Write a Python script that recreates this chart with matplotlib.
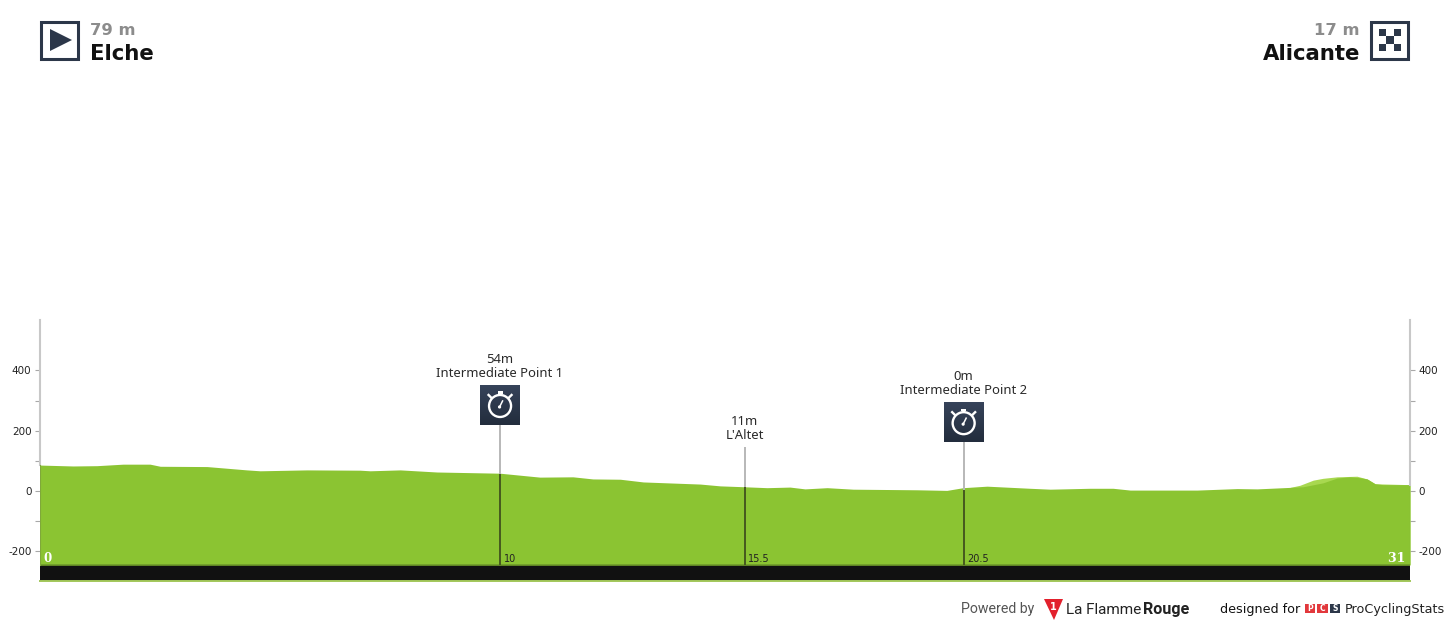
import numpy as np
import matplotlib
matplotlib.use('Agg')
import matplotlib.pyplot as plt
from matplotlib.patches import Rectangle, Polygon, Circle

plt.rcParams['axes.unicode_minus'] = False

# profile, km / metres
km = [0, 0.75, 1.29, 1.88, 2.49, 2.72, 3.78, 4.68, 4.98, 6.04, 7.24, 7.47, 8.15, 8.98, 10.41,
      11.31, 12.06, 12.51, 13.13, 13.65, 14.94, 15.39, 15.95, 16.45, 16.97, 17.31, 17.81, 18.4,
      19.85, 20.52, 20.89, 21.43, 22.4, 22.86, 23.76, 24.28, 24.67, 26.18, 27.09, 27.54, 28.29,
      28.58, 29.03, 29.35, 29.64, 29.87, 30.03, 30.21, 30.39, 31]
elev = [86, 83, 84, 89, 89, 82, 81, 70, 67, 70, 69, 67, 70, 63, 59,
        46, 47, 40, 39, 30, 23, 17, 14, 11, 13, 7, 11, 6,
        4, 2, 11, 16, 9, 6, 9, 9, 3, 3, 8, 7, 12,
        14, 27, 43, 47, 44, 40, 24, 21, 21]
# lighter layer behind the profile, only visible near the finish
km_light = [28.29, 28.51, 28.81, 29.03, 29.35, 29.8, 30.03, 30.21, 31]
elev_light = [12, 19, 36, 42, 47, 49, 40, 24, 21]

marker_km = [10.41, 15.95, 20.9]
marker_elev = [54, 11, 0]
marker_names = ['Intermediate Point 1', "L'Altet", 'Intermediate Point 2']
marker_dist = ['10', '15.5', '20.5']
marker_icon = [True, False, True]
pole_top = [219, 146, 162]

y_major = [-200, 0, 200, 400]
y_minor = [-100, 100, 300]

start_name, start_alt = 'Elche', '79 m'
finish_name, finish_alt = 'Alicante', '17 m'
total_km = 31

GREEN = '#8bc432'
LIGHT = '#a8d850'
DARK = '#2c3749'
W, H = 1450, 625
BASE = -245

fig = plt.figure(figsize=(W / 100, H / 100), dpi=100)
ax = fig.add_axes([40 / W, 1 - 581 / H, 1370 / W, 261 / H])
ax.set_xlim(0, total_km)
ax.set_ylim((491 - 581) / 0.3015, (491 - 320) / 0.3015)
ax.patch.set_visible(False)

ax.fill_between(km_light, BASE, elev_light, color=LIGHT, lw=0, zorder=1)
ax.fill_between(km, BASE, elev, color=GREEN, lw=0, zorder=2)
ax.axhspan(ax.get_ylim()[0], BASE, color='#111111', lw=0, zorder=3)
ax.axhline(BASE, color='#6f9a2a', lw=1.2, zorder=4)
ax.axhline(ax.get_ylim()[0], color='#a2c75a', lw=1.4, zorder=4, clip_on=False)
ax.plot([0, 0], [BASE, elev[0]], color='#7fa83a', lw=0.8, zorder=4)
ax.plot([total_km, total_km], [BASE, elev[-1]], color='#7fa83a', lw=0.8, zorder=4)

ax.set_xticks([])
ax.set_yticks(y_major)
ax.set_yticks(y_minor, minor=True)
ax.tick_params(axis='y', which='both', left=True, right=True, labelleft=True, labelright=True,
               length=3.6, width=0.8, color='#a8a8a8', labelsize=7.5, labelcolor='#222222', pad=2.5)
for s in ['top', 'bottom']:
    ax.spines[s].set_visible(False)
for s in ['left', 'right']:
    ax.spines[s].set_color('#c8c8c8')
    ax.spines[s].set_linewidth(1.5)
    ax.spines[s].set_bounds(elev[0] if s == 'left' else elev[-1], ax.get_ylim()[1])

ax.text(0, BASE, ' 0', color='white', family='DejaVu Serif', weight='bold', fontsize=8.5,
        ha='left', va='bottom', zorder=5)
ax.text(total_km, BASE, '31 ', color='white', family='DejaVu Serif', weight='bold', fontsize=9,
        ha='right', va='bottom', zorder=5)

# overlay in pixel coordinates for the icons and the header/footer
ov = fig.add_axes([0, 0, 1, 1])
ov.set_xlim(0, W)
ov.set_ylim(H, 0)
ov.axis('off')
ov.patch.set_visible(False)
grad = np.linspace(0, 1, 40).reshape(-1, 1)
cmap = matplotlib.colors.LinearSegmentedColormap.from_list('ic', ['#36435a', '#232d3d'])


def stopwatch(cx, cy):
    ov.imshow(grad, extent=(cx - 20, cx + 20, cy + 20, cy - 20), cmap=cmap, aspect='auto', zorder=5)
    c = (cx, cy + 1)
    ov.add_patch(Circle(c, 11, fc='none', ec='white', lw=1.7, zorder=6))
    ov.add_patch(Rectangle((cx - 2.5, cy - 13.5), 5, 2.5, fc='white', lw=0, zorder=6))
    ov.plot([cx - 11.5, cx - 8.5], [cy - 10, cy - 7], color='white', lw=1.7, zorder=6)
    ov.plot([cx + 11.5, cx + 8.5], [cy - 10, cy - 7], color='white', lw=1.7, zorder=6)
    ov.plot([cx - 0.5, cx + 2.5], [cy + 2, cy - 4], color='white', lw=1.1, zorder=6)
    ov.add_patch(Circle((cx - 0.5, cy + 2), 1.6, fc='white', lw=0, zorder=6))


for i in range(len(marker_km)):
    x = marker_km[i]
    ax.plot([x, x], [marker_elev[i], pole_top[i]], color='#b8b8b8', lw=1.4, zorder=3,
            solid_capstyle='butt')
    ax.plot([x, x], [BASE, marker_elev[i] + 3], color='#46591f', lw=1.4, zorder=4, solid_capstyle='butt')
    ax.annotate(marker_dist[i], (x, BASE), xytext=(2.5, 0.3), textcoords='offset points', fontsize=7,
                color='#222222', ha='left', va='bottom', zorder=5)
    px = ov.transData.inverted().transform(ax.transData.transform((x, pole_top[i])))
    top = px[1]
    if marker_icon[i]:
        stopwatch(px[0], top - 20)
        top -= 48
    else:
        top -= 8
    ov.text(px[0], top, marker_names[i], fontsize=9.4, family='Noto Sans', color='#2a2a2a',
            ha='center', va='baseline')
    ov.text(px[0], top - 14, '%dm' % marker_elev[i], fontsize=9.4, family='Noto Sans', color='#2a2a2a',
            ha='center', va='baseline')
ov.set_xlim(0, W)
ov.set_ylim(H, 0)

# header
for x0 in (40, 1370):
    ov.add_patch(Rectangle((x0 + 1.5, 21.5), 37, 37, fc='white', ec=DARK, lw=2.2, zorder=3))
ov.add_patch(Polygon([(50, 29), (50, 51), (72, 40)], fc=DARK, lw=0, zorder=4))
for r in range(3):
    for c in range(3):
        if (r + c) % 2 == 0:
            ov.add_patch(Rectangle((1379 + c * 7.33, 29 + r * 7.33), 7.33, 7.33, fc=DARK, lw=0, zorder=4))

ov.text(90, 35, start_alt, fontsize=11.8, weight='bold', color='#8c8c8c', ha='left', va='baseline')
ov.text(90, 59.5, start_name, fontsize=15.3, weight='bold', color='#111111', ha='left', va='baseline')
ov.text(1360, 35, finish_alt, fontsize=11.8, weight='bold', color='#8c8c8c', ha='right', va='baseline')
ov.text(1360, 59.5, finish_name, fontsize=15.3, weight='bold', color='#111111', ha='right', va='baseline')

# footer
ov.text(961, 613, 'Powered by', fontsize=10.2, family='Roboto', color='#555555', ha='left', va='baseline')
ov.add_patch(Polygon([(1044, 599), (1063, 599), (1054, 620)], fc='#e2202c', lw=0))
ov.text(1053.5, 607, '1', fontsize=7, weight='bold', color='white', ha='center', va='center')
ov.text(1066, 614, 'La Flamme', fontsize=11, family='Roboto', color='#222222',
        ha='left', va='baseline')
ov.text(1143, 614, 'Rouge', fontsize=11.6, family='Roboto', weight='bold', color='#222222',
        ha='left', va='baseline')
ov.text(1220, 613, 'designed for', fontsize=9.2, color='#111111', ha='left', va='baseline')
for x0, ch, col in [(1305, 'P', '#e2383c'), (1317.5, 'C', '#e2383c'), (1330, 'S', DARK)]:
    ov.add_patch(Rectangle((x0, 604), 10.5, 9, fc=col, lw=0))
    ov.text(x0 + 5.2, 608.7, ch, fontsize=5.5, weight='bold', color='white', ha='center', va='center')
ov.text(1345, 613, 'ProCyclingStats', fontsize=9.2, color='#222222', ha='left', va='baseline')

plt.savefig('out.png', dpi=100)
